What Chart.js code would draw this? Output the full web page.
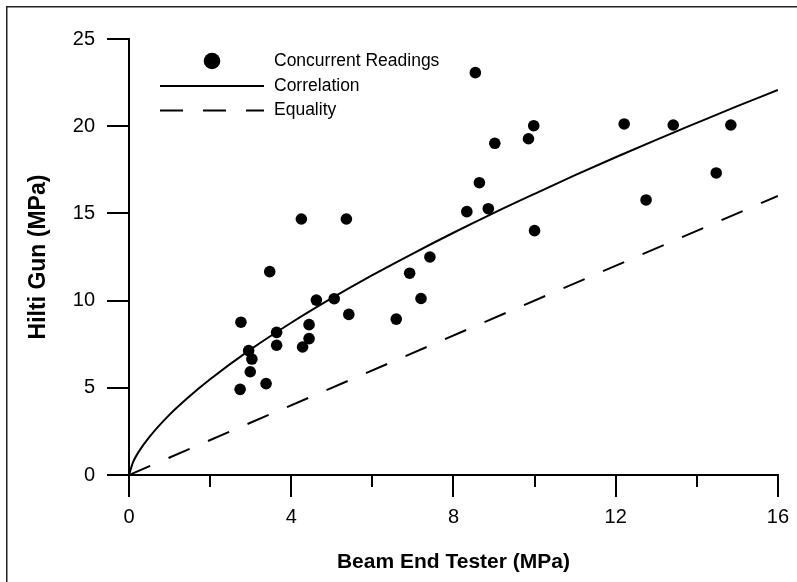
<!DOCTYPE html>
<html><head><meta charset="utf-8">
<script src="https://cdn.jsdelivr.net/npm/chart.js@4"></script>
<style>html,body{margin:0;padding:0;background:#fff}#wrap{width:797px;height:582px;position:relative}</style>
</head><body><div id="wrap"><canvas id="c" width="797" height="582"></canvas></div>
<script>
// Concurrent readings (Beam End Tester MPa, Hilti Gun MPa)
const readingX = [2.74,2.76,2.95,2.99,3.03,3.38,3.47,3.64,3.64,4.25,4.28,4.44,4.44,4.62,5.06,5.36,5.42,6.59,6.92,7.20,7.42,8.33,8.54,8.64,8.86,9.02,9.85,9.98,10.00,12.21,12.75,13.42,14.48,14.84];
const readingY = [4.91,8.76,7.13,5.92,6.65,5.24,11.66,8.18,7.44,14.68,7.34,8.62,7.82,10.03,10.11,14.68,9.21,8.94,11.57,10.12,12.50,15.10,23.07,16.76,15.27,19.02,19.28,20.03,14.01,20.13,15.77,20.07,17.32,20.07];
// Correlation curve
const corrX = [0,0.1,0.25,0.5,1,1.5,2,3,4,5,6,7,8,9,10,11,12,13,14,15,16];
const corrY = [0,0.74,1.37,2.17,3.46,4.53,5.49,7.20,8.73,10.14,11.46,12.70,13.89,15.03,16.12,17.19,18.22,19.22,20.19,21.15,22.08];
// Equality line
const eqX = [0,16];
const eqY = [0,16];
const xMinorTicks = [2,6,10,14];
const legendLabels = ["Concurrent Readings","Correlation","Equality"];
const xTitle = "Beam End Tester (MPa)";
const yTitle = "Hilti Gun (MPa)";

const FONT = "'Liberation Sans', Arial, Helvetica, sans-serif";
const pts = (xs, ys) => xs.map((x, i) => ({x, y: ys[i]}));

const minorTicks = {
  id: 'minorTicks',
  afterDraw(chart) {
    const {ctx, chartArea, scales} = chart;
    ctx.save();
    ctx.strokeStyle = '#000'; ctx.lineWidth = 2;
    xMinorTicks.forEach(v => {
      const px = Math.round(scales.x.getPixelForValue(v));
      ctx.beginPath(); ctx.moveTo(px, chartArea.bottom); ctx.lineTo(px, chartArea.bottom + 12); ctx.stroke();
    });
    ctx.restore();
  }
};
const frame = {
  id: 'frame',
  beforeDraw(chart) {
    const {ctx, width, height} = chart;
    ctx.save();
    ctx.fillStyle = '#fff'; ctx.fillRect(0, 0, width, height);
    ctx.strokeStyle = '#222'; ctx.lineWidth = 1.5;
    ctx.beginPath(); ctx.moveTo(6.75, height); ctx.lineTo(6.75, 6.75); ctx.lineTo(width, 6.75); ctx.stroke();
    ctx.restore();
  }
};
const legendBox = {
  id: 'legendBox',
  afterDraw(chart) {
    const {ctx} = chart;
    ctx.save();
    ctx.fillStyle = '#000'; ctx.strokeStyle = '#000';
    ctx.beginPath(); ctx.arc(212, 61, 8.3, 0, Math.PI * 2); ctx.fill();
    ctx.lineWidth = 2;
    ctx.beginPath(); ctx.moveTo(160, 86); ctx.lineTo(264, 86); ctx.stroke();
    ctx.setLineDash([23, 20]);
    ctx.beginPath(); ctx.moveTo(160, 110.5); ctx.lineTo(264, 110.5); ctx.stroke();
    ctx.setLineDash([]);
    ctx.font = '17.5px ' + FONT;
    ctx.textBaseline = 'middle'; ctx.textAlign = 'left';
    ctx.fillText(legendLabels[0], 274, 61);
    ctx.fillText(legendLabels[1], 274, 86);
    ctx.fillText(legendLabels[2], 274, 110);
    ctx.restore();
  }
};

new Chart(document.getElementById('c'), {
  type: 'scatter',
  data: {
    datasets: [
      {label: legendLabels[0], data: pts(readingX, readingY), pointRadius: 5.8, pointHoverRadius: 5.8, backgroundColor: '#000', borderWidth: 0, showLine: false},
      {label: legendLabels[1], data: pts(corrX, corrY), showLine: true, pointRadius: 0, borderColor: '#000', borderWidth: 2, cubicInterpolationMode: 'monotone'},
      {label: legendLabels[2], data: pts(eqX, eqY), showLine: true, pointRadius: 0, borderColor: '#000', borderWidth: 2, borderDash: [23, 20]}
    ]
  },
  options: {
    responsive: false, animation: false, devicePixelRatio: 1,
    layout: {padding: {top: 39, right: 15, left: 0, bottom: 0}},
    plugins: {legend: {display: false}, tooltip: {enabled: false}},
    scales: {
      x: {
        type: 'linear', min: 0, max: 16,
        ticks: {stepSize: 4, color: '#000', font: {family: FONT, size: 20}, padding: 8, maxRotation: 0, autoSkip: false},
        grid: {drawOnChartArea: false, drawTicks: true, tickLength: 22, color: '#000', lineWidth: 2},
        border: {display: true, color: '#000', width: 2},
        title: {display: true, text: xTitle, color: '#000', font: {family: FONT, size: 21, weight: 'bold'}, padding: {top: 0, bottom: 7}},
        afterFit: s => { s.height = 107; }
      },
      y: {
        min: 0, max: 25,
        ticks: {stepSize: 5, color: '#000', font: {family: FONT, size: 20}, padding: 12},
        grid: {drawOnChartArea: false, drawTicks: true, tickLength: 22, color: '#000', lineWidth: 2},
        border: {display: true, color: '#000', width: 2},
        title: {display: true, text: yTitle, color: '#000', font: {family: FONT, size: 23, weight: 'bold'}, padding: {top: 25, bottom: 0}},
        afterFit: s => { s.width = 129; }
      }
    }
  },
  plugins: [frame, minorTicks, legendBox]
});
</script></body></html>
